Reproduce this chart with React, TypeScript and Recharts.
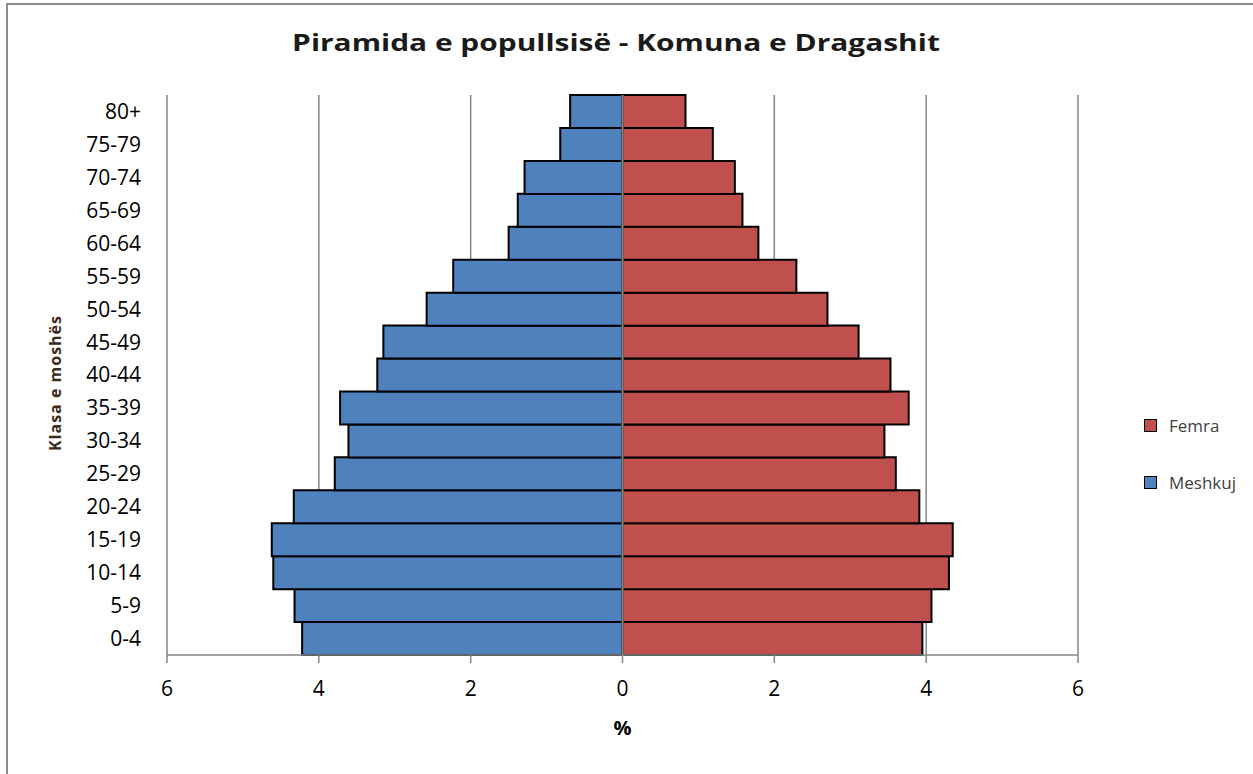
import {
  Bar,
  BarChart,
  CartesianGrid,
  ReferenceLine,
  XAxis,
  YAxis,
} from "recharts";

const ageGroups = [
  "0-4", "5-9", "10-14", "15-19", "20-24", "25-29", "30-34", "35-39", "40-44",
  "45-49", "50-54", "55-59", "60-64", "65-69", "70-74", "75-79", "80+",
];
const meshkuj = [
  4.22, 4.32, 4.6, 4.62, 4.33, 3.79, 3.61, 3.72, 3.23, 3.15, 2.58, 2.23, 1.5,
  1.38, 1.29, 0.82, 0.69,
];
const femra = [
  3.95, 4.07, 4.3, 4.35, 3.91, 3.6, 3.45, 3.77, 3.53, 3.11, 2.7, 2.29, 1.79,
  1.58, 1.48, 1.19, 0.83,
];
const xTicks = [-6, -4, -2, 0, 2, 4, 6];

const BLUE = "#4F81BD";
const RED = "#C0504D";
const GRID = "#868686";
const FONT = "'Open Sans', sans-serif";

const data = ageGroups.map((g, i) => ({
  age: g,
  meshkuj: -meshkuj[i],
  femra: femra[i],
}));

function LegendBox() {
  const items = [
    { name: "Femra", color: RED },
    { name: "Meshkuj", color: BLUE },
  ];
  return (
    <div
      style={{
        position: "absolute",
        left: 1144,
        top: 411,
        fontFamily: FONT,
        fontSize: 17,
        color: "#404040",
      }}
    >
      {items.map((it) => (
        <div
          key={it.name}
          style={{ display: "flex", alignItems: "center", height: 28, marginBottom: 29 }}
        >
          <span
            style={{
              width: 11,
              height: 11,
              background: it.color,
              border: "1.5px solid #000",
              marginRight: 12,
            }}
          />
          {it.name}
        </div>
      ))}
    </div>
  );
}

// rotated axis title, centred on the plot height
function AgeLabel({ viewBox }: any) {
  const x = viewBox.x - 52;
  const y = viewBox.y + viewBox.height / 2 + 8;
  return (
    <text
      x={x}
      y={y}
      transform={`rotate(-90, ${x}, ${y})`}
      textAnchor="middle"
      dominantBaseline="central"
      fontSize={16}
      fontWeight={700}
      letterSpacing={1}
      fill="#3a2a1a"
      fontFamily={FONT}
    >
      Klasa e moshës
    </text>
  );
}

export default function App() {
  return (
    <div
      style={{
        position: "absolute",
        left: 0,
        top: 0,
        width: 1253,
        height: 774,
        background: "#fff",
        fontFamily: FONT,
      }}
    >
      <div
        style={{
          position: "absolute",
          left: 6,
          top: 3,
          width: 1247,
          height: 771,
          borderLeft: "2px solid #8c8c8c",
          borderTop: "2px solid #8c8c8c",
        }}
      />
      <div
        style={{
          position: "absolute",
          left: 0,
          width: 1232,
          top: 26,
          textAlign: "center",
          fontSize: 23,
          fontWeight: 700,
          color: "#1a1a1a",
          transform: "scaleX(1.3)",
          transformOrigin: "616px 0",
        }}
      >
        Piramida e popullsisë - Komuna e Dragashit
      </div>
      <BarChart
        width={1253}
        height={774}
        data={data}
        layout="vertical"
        stackOffset="sign"
        barCategoryGap={0}
        margin={{ top: 95, right: 175, bottom: 39, left: 107 }}
        style={{ position: "absolute", left: 0, top: 0 }}
      >
        <CartesianGrid horizontal={false} stroke={GRID} strokeWidth={1.5} />
        <XAxis
          type="number"
          domain={[-6, 6]}
          ticks={xTicks}
          tickFormatter={(v: number) => String(Math.abs(v))}
          tick={{ fill: "#000", fontSize: 21, fontFamily: FONT }}
          tickSize={8}
          tickMargin={18}
          stroke={GRID}
          strokeWidth={1.5}
          height={80}
          label={{
            value: "%",
            position: "insideBottom",
            offset: 0,
            fill: "#000",
            fontSize: 20,
            fontWeight: 700,
          }}
        />
        <YAxis
          type="category"
          dataKey="age"
          reversed
          width={60}
          axisLine={false}
          tickLine={false}
          tickMargin={20}
          interval={0}
          tick={{ fill: "#000", fontSize: 21, fontFamily: FONT }}
          label={<AgeLabel />}
        />
        <Bar
          dataKey="meshkuj"
          name="Meshkuj"
          stackId="p"
          fill={BLUE}
          stroke="#000"
          strokeWidth={2}
          isAnimationActive={false}
        />
        <Bar
          dataKey="femra"
          name="Femra"
          stackId="p"
          fill={RED}
          stroke="#000"
          strokeWidth={2}
          isAnimationActive={false}
        />
        <ReferenceLine x={0} stroke={GRID} strokeWidth={2} />
      </BarChart>
      <LegendBox />
    </div>
  );
}
